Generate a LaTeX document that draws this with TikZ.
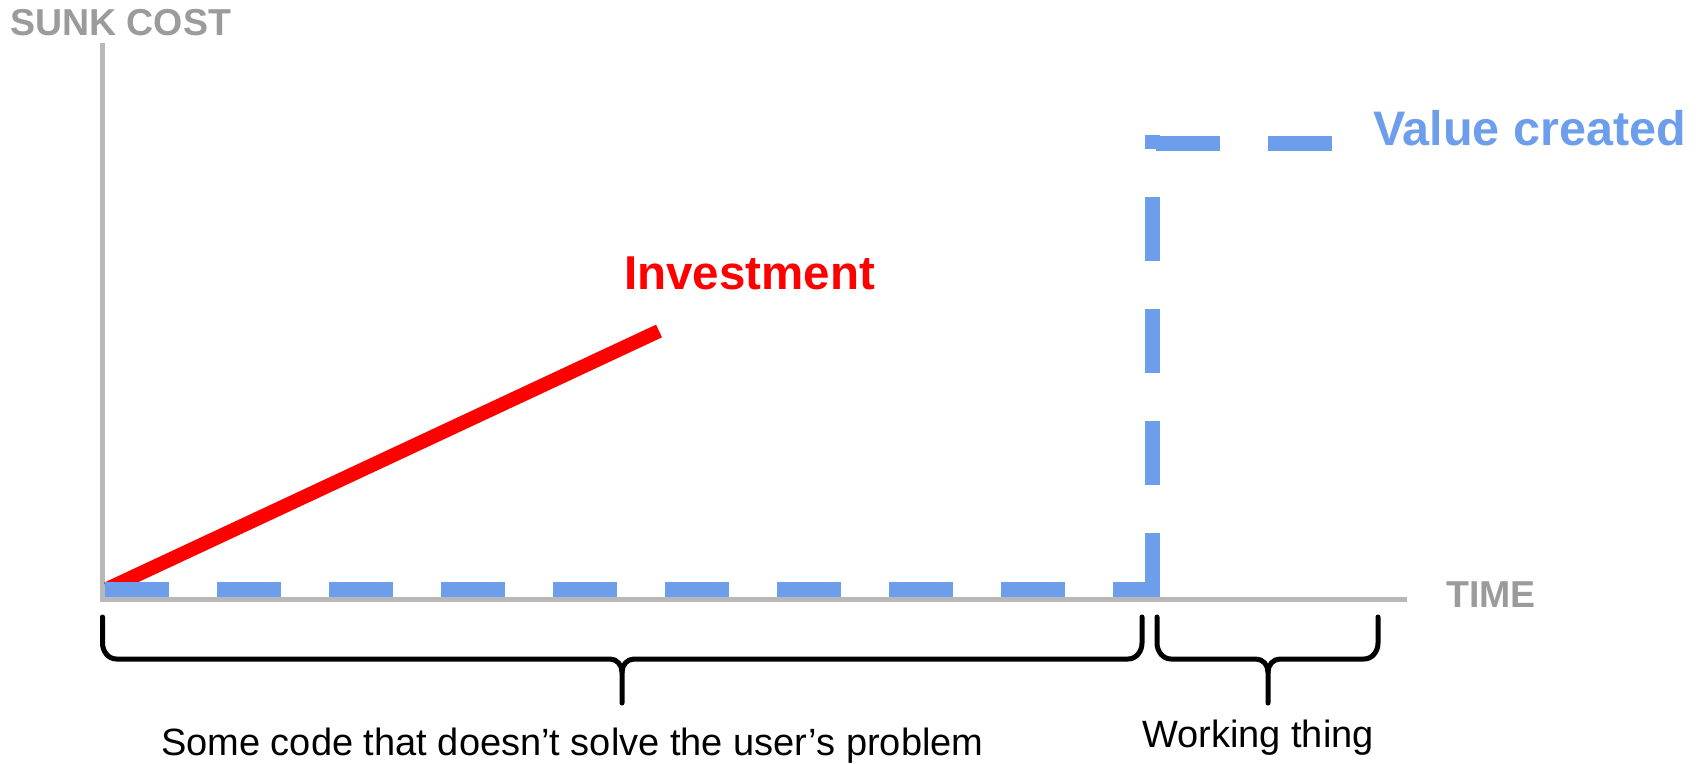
\documentclass[tikz,border=0pt]{standalone}
\usepackage{fontspec}
\setmainfont{Liberation Sans}
\definecolor{axisgray}{RGB}{184,184,184}
\definecolor{labelgray}{RGB}{155,155,155}
\definecolor{valueblue}{RGB}{109,158,235}
\definecolor{investred}{RGB}{255,0,0}
\newcommand\drawmybrace[3]{%
  \draw[bracestyle] (#1,617) -- (#1,643) to[out=-90,in=180] ({#1+14},659) -- ({#3-12},659) to[out=0,in=90] (#3,672) -- (#3,703);
  \draw[bracestyle] (#2,617) -- (#2,643) to[out=-90,in=0] ({#2-14},659) -- ({#3+12},659) to[out=180,in=90] (#3,672);
}
\tikzset{
  axisline/.style={draw=axisgray,line width=5pt},
  bluedash/.style={draw=valueblue,line width=15pt,dash pattern=on 64pt off 48pt},
  redline/.style={draw=investred,line width=14pt},
  bracestyle/.style={draw=black,line width=5pt,line cap=round,line join=round},
  biglabel/.style={font=\fontsize{47.5}{50}\selectfont\bfseries,inner sep=0pt,anchor=base west},
  axislabel/.style={font=\fontsize{37.5}{40}\selectfont\bfseries,text=labelgray,inner sep=0pt,anchor=base west},
  bracelabel/.style={font=\fontsize{38}{40}\selectfont,text=black,inner sep=0pt,anchor=base west},
}
\begin{document}
\begin{tikzpicture}[x=1pt,y=-1pt]
\useasboundingbox (0,0) rectangle (1702,763);
% axes
\coordinate (ytop) at (102.5,43);
\coordinate (origin) at (102.5,599.5);
\coordinate (xend) at (1407,599.5);
\draw[axisline] (ytop) -- (origin) -- (xend);
% investment line
\coordinate (rstart) at (107,589);
\coordinate (rend) at (659,331);
\draw[redline] (rstart) -- (rend);
% value created dashed step
\coordinate (b0) at (105,589.5);
\coordinate (b1) at (1152,589.5);
\coordinate (v0) at (1152,597);
\coordinate (v1) at (1152,135);
\coordinate (t0) at (1156,143);
\coordinate (t1) at (1332,143);
\draw[bluedash] (b0) -- (b1);
\draw[bluedash] (v0) -- (v1);
\draw[bluedash] (t0) -- (t1);
% labels
\node[axislabel] (sunk) at (10,35) {SUNK COST};
\node[axislabel] (time) at (1446,607) {TIME};
\node[biglabel,text=investred] (invest) at (624,289) {Investment};
\node[biglabel,text=valueblue,font=\fontsize{48.5}{50}\selectfont\bfseries] (value) at (1373,145) {Value created};
% braces
\drawmybrace{102.5}{1142}{622}
\drawmybrace{1157}{1378}{1268}
\node[bracelabel] (code) at (161,755) {Some code that doesn’t solve the user’s problem};
\node[bracelabel] (working) at (1142,747) {Working thing};
\end{tikzpicture}
\end{document}
